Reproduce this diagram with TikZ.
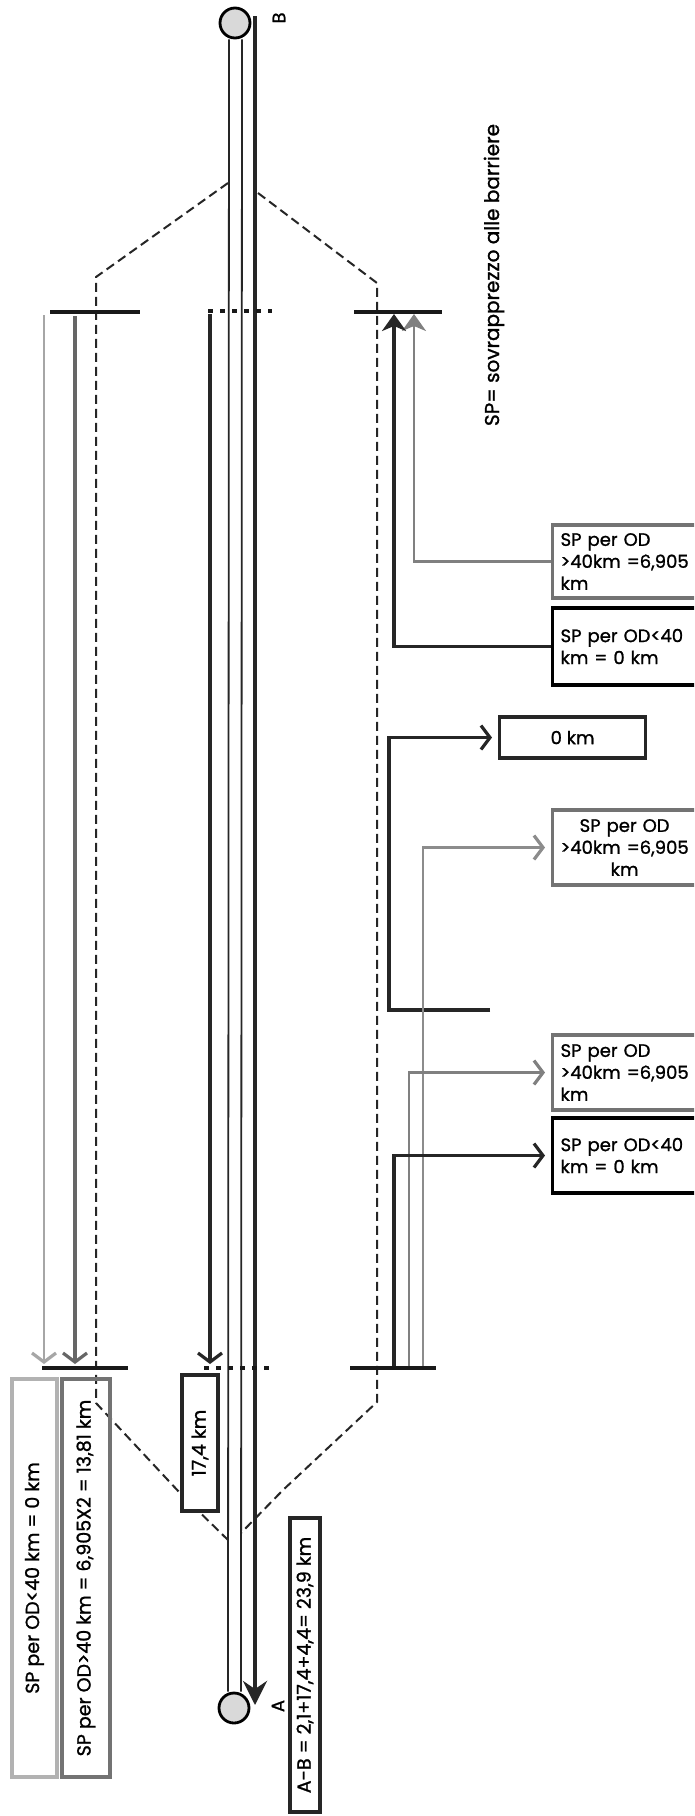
\documentclass[tikz,border=0pt]{standalone}
\usepackage{fontspec}
\setmainfont{Poppins}[RawFeature={embolden=1.2}]
\usetikzlibrary{
    arrows.meta,
    positioning
}

\tikzset{
    lbl/.style={font=\fontsize{18}{22}\selectfont},
    vlbl/.style={font=\fontsize{19}{22}\selectfont},
    stop/.style={circle,draw=black,line width=2.8pt,fill=black!15,minimum size=30pt,inner sep=0pt},
    rail/.style={line width=1.8pt,black!85},
    barrier/.style={line width=4.5pt,black!90},
    gate/.style={line width=4.5pt,black!90,dash pattern=on 5pt off 7pt},
    tollzone/.style={line width=2pt,black!85,dash pattern=on 9pt off 5pt},
    vee/.style={-{Straight Barb[length=9pt,width=24pt,line width=3.2pt]}},
    upvee/.style={-{Stealth[length=17pt,width=24pt,inset=5pt]}},
    spbox/.style={draw,line width=3.2pt,inner xsep=8pt,inner ysep=5pt,lbl,anchor=west,text width=150pt,align=left},
    vbox/.style={draw,line width=3.2pt,inner sep=4pt,vlbl,rotate=90}
}

\begin{document}
\begin{tikzpicture}[x=1pt,y=-1pt]
\fill[white] (0,0) rectangle (694,1816);
\useasboundingbox (0,0) rectangle (694,1816);
\clip (0,0) rectangle (694,1816);

% Toll area
\draw[tollzone] (228,183) -- (96,277) -- (96,1403) -- (180,1493) -- (228,1540);
\draw[tollzone] (258,193) -- (377,283) -- (377,1402) -- (283,1490) -- (241,1533);

% Stations
\node[stop] (B) at (235,23) {};
\node[stop] (A) at (234,1708) {};
\node[lbl,rotate=90] (Blab) at (279,18) {B};
\node[lbl,rotate=90] (Alab) at (278,1706) {A};

% Rails
\draw[rail] ([xshift=-6pt]B.south) -- ([xshift=-6pt]A.north);
\draw[rail] ([xshift=7pt]B.south) -- ([xshift=7pt]A.north);
\coordinate (mainB) at (255,16);
\coordinate (mainA) at (255,1705);
\draw[line width=4.2pt,black!85,-{Stealth[length=24pt,width=24pt,inset=8pt]}] (mainB) -- (mainA);

% Barriers
\coordinate (tl1) at (50,312);   \coordinate (tl2) at (140,312);
\coordinate (tc1) at (208,311);  \coordinate (tc2) at (272,311);
\coordinate (tr1) at (354,312);  \coordinate (tr2) at (442,312);
\coordinate (bl1) at (42,1368);  \coordinate (bl2) at (128,1368);
\coordinate (bc1) at (204,1368); \coordinate (bc2) at (269,1368);
\coordinate (br1) at (350,1368); \coordinate (br2) at (436,1368);
\draw[barrier] (tl1) -- (tl2);
\draw[gate] (tc1) -- (tc2);
\draw[barrier] (tr1) -- (tr2);
\draw[barrier] (bl1) -- (bl2);
\draw[gate] (bc1) -- (bc2);
\draw[barrier] (br1) -- (br2);

% Trips through the barriers
\coordinate (lowS) at (44,315);  \coordinate (lowE) at (44,1364);
\coordinate (highS) at (75,316); \coordinate (highE) at (75,1364);
\coordinate (midS) at (210,314); \coordinate (midE) at (210,1364);
\draw[vee,line width=2.8pt,black!35] (lowS) -- (lowE);
\draw[vee,line width=3.2pt,black!60] (highS) -- (highE);
\draw[vee,line width=3.8pt,black!85] (midS) -- (midE);

% Surcharge boxes
\node[spbox,draw=black!55,minimum height=73pt] (sp1) at (551,561.5) {SP per OD\\>40km =6,905\\km};
\node[spbox,draw=black,minimum height=77pt] (sp2) at (551,646.5) {SP per OD<40\\km = 0 km};
\node[draw=black!85,line width=3.2pt,lbl,minimum width=146pt,minimum height=41pt,anchor=west] (zero) at (498,737.5) {0 km};
\node[spbox,draw=black!55,minimum height=75pt] (sp4) at (551,847.5) {\makebox[128pt]{SP per OD}\\>40km =6,905\\\makebox[128pt]{km}};
\node[spbox,draw=black!55,minimum height=75pt] (sp5) at (551,1072.5) {SP per OD\\>40km =6,905\\km};
\node[spbox,draw=black,minimum height=75pt] (sp6) at (551,1155.5) {SP per OD<40\\km = 0 km};

% Links to the boxes
\coordinate (up1) at (414,314);
\coordinate (up2) at (394,314);
\draw[upvee,line width=2.8pt,black!50] (sp1.west) -| (up1);
\draw[upvee,line width=3.8pt,black!85] (sp2.west) -| (up2);
\coordinate (k1) at (490,1010);
\coordinate (k2) at (389,1010);
\draw[vee,line width=3.8pt,black!85,shorten >=6pt] (k1) -- (k2) |- (zero.west);
\coordinate (r4) at (423,1366);
\coordinate (r5) at (409,1366);
\coordinate (r6) at (394,1366);
\draw[vee,line width=2.8pt,black!45,shorten >=6pt] (r4) |- (sp4.west);
\draw[vee,line width=2.8pt,black!50,shorten >=6pt] (r5) |- (sp5.west);
\draw[vee,line width=3.8pt,black!85,shorten >=6pt] (r6) |- (sp6.west);

% Totals
\node[vbox,draw=black!30,minimum width=398pt,minimum height=45pt] (odlow) at (34.5,1578) {SP per OD<40 km = 0 km};
\node[vbox,draw=black!55,minimum width=398pt,minimum height=48pt] (odhigh) at (86,1578) {SP per OD>40 km = 6,905X2 = 13,81 km};
\node[vbox,draw=black!85,fill=white,minimum width=136pt,minimum height=36pt] (mainkm) at (200,1443) {17,4 km};
\node[vbox,draw=black!85,fill=white,minimum width=294pt,minimum height=30pt] (total) at (305,1665) {A-B = 2,1+17,4+4,4= 23,9 km};

\node[font=\fontsize{20}{22}\selectfont,rotate=90] (note) at (494,275) {SP= sovrapprezzo alle barriere};
\end{tikzpicture}
\end{document}
